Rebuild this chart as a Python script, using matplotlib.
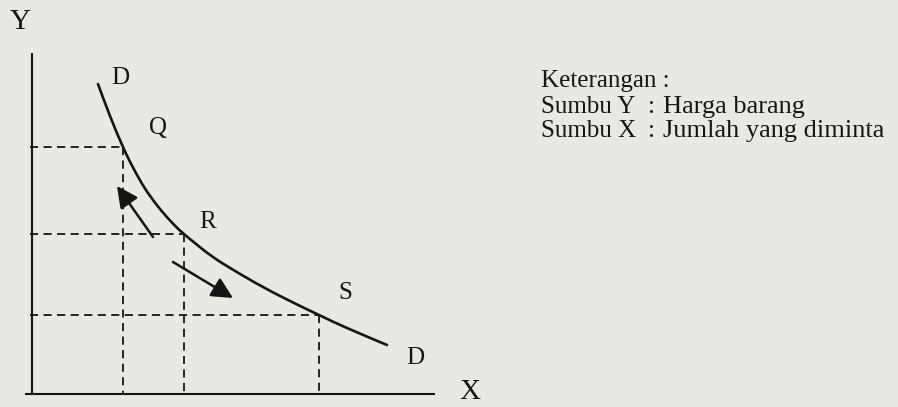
import matplotlib
matplotlib.use("Agg")
import matplotlib.pyplot as plt
from matplotlib.path import Path
from matplotlib.patches import PathPatch

# kurva permintaan D-D (jumlah, harga)
kurva_x = [66, 78, 91, 101, 113, 126, 139, 152, 181, 215, 248, 287, 315, 355]
kurva_y = [310, 278, 247, 226.5, 205.5, 187.5, 172.5, 160, 137, 116, 98,
           79, 66, 49]

# titik Q, R, S pada kurva
titik_nama = ["Q", "R", "S"]
titik_x = [91, 152, 287]
titik_y = [247, 160, 79]

keterangan = ["Keterangan :", "Sumbu Y", "Sumbu X"]
arti = ["", "Harga barang", "Jumlah yang diminta"]

warna = "#151515"
latar = "#e8e8e4"
huruf = "Liberation Serif"


def kurva_halus(xs, ys):
    # spline Catmull-Rom lewat semua titik, digambar sebagai bezier kubik
    p = list(zip(xs, ys))
    verts = [p[0]]
    codes = [Path.MOVETO]
    n = len(p)
    for i in range(n - 1):
        p0 = p[max(i - 1, 0)]
        p1 = p[i]
        p2 = p[i + 1]
        p3 = p[min(i + 2, n - 1)]
        c1 = (p1[0] + (p2[0] - p0[0]) / 6, p1[1] + (p2[1] - p0[1]) / 6)
        c2 = (p2[0] - (p3[0] - p1[0]) / 6, p2[1] - (p3[1] - p1[1]) / 6)
        verts += [c1, c2, p2]
        codes += [Path.CURVE4] * 3
    return Path(verts, codes)


fig = plt.figure(figsize=(8.98, 4.07), dpi=100, facecolor=latar)
ax = fig.add_axes([0, 0, 1, 1])
ax.set_facecolor(latar)
ax.set_xlim(-32, 866)
ax.set_ylim(-13, 394)
ax.axis("off")

# sumbu
ax.plot([0, 0], [-1, 341], color=warna, lw=1.5, solid_capstyle="butt")
ax.plot([-7, 403], [0, 0], color=warna, lw=1.5, solid_capstyle="butt")

# garis putus-putus ke sumbu
for x, y in zip(titik_x, titik_y):
    ax.plot([-2, x], [y, y], color=warna, lw=1.3, ls=(0, (4.5, 3)))
    ax.plot([x, x], [y, 0], color=warna, lw=1.3, ls=(0, (4.5, 3)))

# kurva permintaan
ax.add_patch(PathPatch(kurva_halus(kurva_x, kurva_y), facecolor="none",
                       edgecolor=warna, lw=1.9, capstyle="round"))

# arah pergerakan sepanjang kurva
ax.annotate("", xy=(85, 208), xytext=(121, 157),
            arrowprops=dict(arrowstyle="-|>", color=warna, lw=1.8,
                            mutation_scale=32, shrinkA=0, shrinkB=0))
ax.annotate("", xy=(201, 96), xytext=(141, 132),
            arrowprops=dict(arrowstyle="-|>", color=warna, lw=1.8,
                            mutation_scale=32, shrinkA=0, shrinkB=0))

# label
label_pos = {"Q": (126, 266), "R": (176, 172), "S": (313, 101)}
for nama in titik_nama:
    ax.text(*label_pos[nama], nama, family=huruf, fontsize=18,
            color=warna, ha="center", va="center")
ax.text(88, 316, "D", family=huruf, fontsize=18, color=warna,
        ha="center", va="center")
ax.text(383, 36, "D", family=huruf, fontsize=18, color=warna,
        ha="center", va="center")
ax.text(-12, 372, "Y", family=huruf, fontsize=21, color=warna,
        ha="center", va="center")
ax.text(438, 2, "X", family=huruf, fontsize=21, color=warna,
        ha="center", va="center")

# keterangan
baris_y = [307, 281, 257]
for teks, isi, y in zip(keterangan, arti, baris_y):
    ax.text(509, y, teks, family=huruf, fontsize=18, color=warna,
            va="baseline")
    if isi:
        ax.text(616, y, ":", family=huruf, fontsize=18, color=warna,
                va="baseline")
        ax.text(631, y, isi, family=huruf, fontsize=19, color=warna,
                va="baseline")

fig.savefig("out.png", dpi=100, facecolor=latar)
